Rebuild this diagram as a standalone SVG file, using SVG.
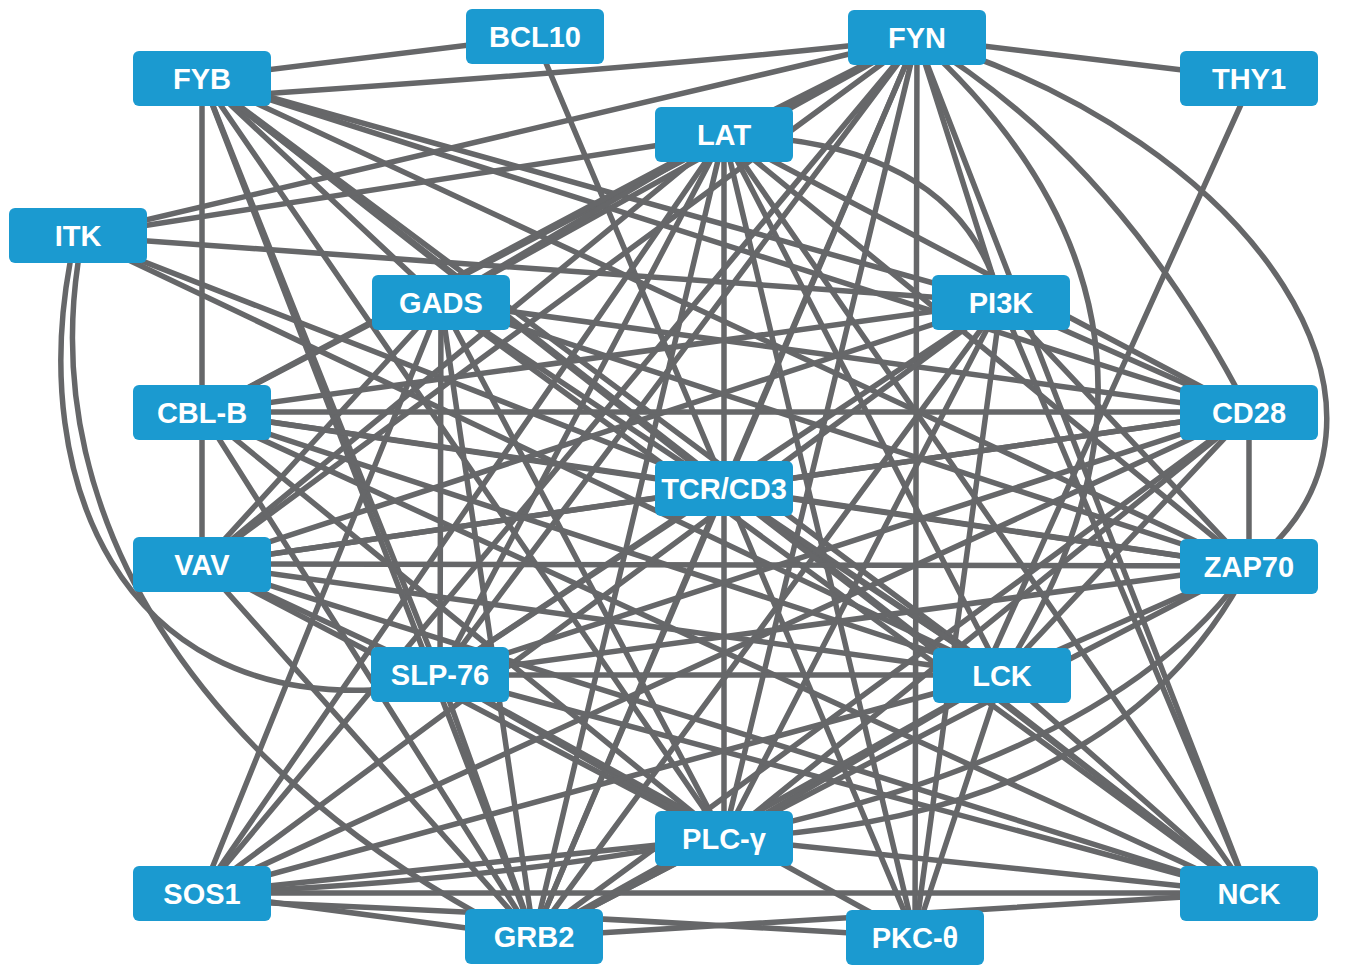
<svg xmlns="http://www.w3.org/2000/svg" width="1358" height="965" viewBox="0 0 1358 965">
<style>
.e line, .e path { stroke: #666769; stroke-width: 5.5; fill: none; stroke-linecap: round; }
.n rect { fill: #1b9ad0; }
.n text { fill: #ffffff; font-family: "Liberation Sans", Arial, sans-serif; font-weight: bold; font-size: 29px; text-anchor: middle; }
</style>
<rect width="1358" height="965" fill="#ffffff"/>
<g id="edges" class="e">
<line x1="202" y1="78" x2="535" y2="37"/>
<path d="M202,98 Q700,65 917,38"/>
<line x1="202" y1="78" x2="202" y2="564"/>
<line x1="202" y1="78" x2="440" y2="675"/>
<line x1="202" y1="78" x2="534" y2="937"/>
<line x1="202" y1="78" x2="724" y2="838"/>
<line x1="202" y1="78" x2="1001" y2="302"/>
<line x1="202" y1="78" x2="1249" y2="412"/>
<line x1="202" y1="78" x2="1002" y2="675"/>
<line x1="202" y1="78" x2="1249" y2="566"/>
<line x1="202" y1="78" x2="724" y2="488"/>
<line x1="202" y1="78" x2="1249" y2="893"/>
<line x1="202" y1="78" x2="441" y2="302"/>
<line x1="535" y1="37" x2="915" y2="937"/>
<line x1="917" y1="38" x2="1249" y2="78"/>
<line x1="917" y1="38" x2="724" y2="135"/>
<line x1="917" y1="38" x2="78" y2="236"/>
<line x1="917" y1="38" x2="441" y2="302"/>
<line x1="917" y1="38" x2="202" y2="412"/>
<line x1="917" y1="38" x2="202" y2="564"/>
<line x1="917" y1="38" x2="440" y2="675"/>
<line x1="917" y1="38" x2="202" y2="893"/>
<line x1="917" y1="38" x2="534" y2="937"/>
<line x1="917" y1="38" x2="724" y2="838"/>
<line x1="917" y1="38" x2="724" y2="488"/>
<line x1="917" y1="38" x2="915" y2="937"/>
<line x1="917" y1="38" x2="1001" y2="302"/>
<line x1="917" y1="38" x2="1249" y2="893"/>
<path d="M917,38 Q1230,320 1002,675"/>
<path d="M917,38 Q1120,160 1249,412"/>
<path d="M917,38 C1260,140 1440,420 1249,566"/>
<line x1="724" y1="135" x2="78" y2="236"/>
<line x1="724" y1="135" x2="441" y2="302"/>
<line x1="724" y1="135" x2="202" y2="412"/>
<line x1="724" y1="135" x2="202" y2="564"/>
<line x1="724" y1="135" x2="440" y2="675"/>
<line x1="724" y1="135" x2="202" y2="893"/>
<line x1="724" y1="135" x2="534" y2="937"/>
<line x1="724" y1="135" x2="724" y2="838"/>
<line x1="724" y1="135" x2="915" y2="937"/>
<line x1="724" y1="135" x2="1002" y2="675"/>
<line x1="724" y1="135" x2="1249" y2="566"/>
<line x1="724" y1="135" x2="1249" y2="893"/>
<path d="M724,135 Q960,140 1001,302"/>
<line x1="724" y1="135" x2="1249" y2="412"/>
<line x1="78" y1="236" x2="1001" y2="302"/>
<line x1="78" y1="236" x2="1002" y2="675"/>
<line x1="78" y1="236" x2="724" y2="488"/>
<path d="M70,263 C30,480 120,700 372,690"/>
<path d="M78,263 C40,520 200,760 480,915"/>
<line x1="441" y1="302" x2="440" y2="675"/>
<line x1="441" y1="302" x2="534" y2="937"/>
<line x1="441" y1="302" x2="724" y2="838"/>
<line x1="441" y1="302" x2="1002" y2="675"/>
<line x1="441" y1="302" x2="1249" y2="412"/>
<line x1="441" y1="302" x2="1249" y2="566"/>
<line x1="441" y1="302" x2="1249" y2="893"/>
<line x1="441" y1="302" x2="202" y2="564"/>
<line x1="441" y1="302" x2="202" y2="893"/>
<line x1="1001" y1="302" x2="202" y2="412"/>
<line x1="1001" y1="302" x2="202" y2="564"/>
<line x1="1001" y1="302" x2="440" y2="675"/>
<line x1="1001" y1="302" x2="202" y2="893"/>
<line x1="1001" y1="302" x2="534" y2="937"/>
<line x1="1001" y1="302" x2="724" y2="838"/>
<line x1="1001" y1="302" x2="1249" y2="412"/>
<line x1="1001" y1="302" x2="1249" y2="566"/>
<line x1="1001" y1="302" x2="1249" y2="893"/>
<line x1="1001" y1="302" x2="915" y2="937"/>
<line x1="202" y1="412" x2="1249" y2="412"/>
<line x1="202" y1="412" x2="1249" y2="566"/>
<line x1="202" y1="412" x2="1002" y2="675"/>
<line x1="202" y1="412" x2="724" y2="838"/>
<line x1="202" y1="412" x2="534" y2="937"/>
<line x1="202" y1="412" x2="1249" y2="893"/>
<line x1="202" y1="412" x2="724" y2="488"/>
<line x1="1249" y1="412" x2="202" y2="564"/>
<line x1="1249" y1="412" x2="440" y2="675"/>
<line x1="1249" y1="412" x2="202" y2="893"/>
<line x1="1249" y1="412" x2="534" y2="937"/>
<line x1="1249" y1="412" x2="724" y2="838"/>
<line x1="1249" y1="412" x2="1002" y2="675"/>
<line x1="1249" y1="412" x2="1249" y2="566"/>
<line x1="1249" y1="412" x2="724" y2="488"/>
<line x1="724" y1="488" x2="1249" y2="566"/>
<line x1="724" y1="488" x2="1002" y2="675"/>
<line x1="724" y1="488" x2="440" y2="675"/>
<line x1="724" y1="488" x2="202" y2="564"/>
<line x1="724" y1="488" x2="534" y2="937"/>
<line x1="724" y1="488" x2="1249" y2="893"/>
<line x1="202" y1="564" x2="1249" y2="566"/>
<line x1="202" y1="564" x2="534" y2="937"/>
<line x1="202" y1="564" x2="724" y2="838"/>
<line x1="202" y1="564" x2="1002" y2="675"/>
<line x1="202" y1="564" x2="1249" y2="893"/>
<line x1="202" y1="564" x2="440" y2="675"/>
<line x1="1249" y1="566" x2="440" y2="675"/>
<line x1="1249" y1="566" x2="1002" y2="675"/>
<line x1="1249" y1="566" x2="534" y2="937"/>
<path d="M1249,566 Q1120,820 724,838"/>
<path d="M1249,566 Q1050,860 202,893"/>
<line x1="440" y1="675" x2="1002" y2="675"/>
<line x1="440" y1="675" x2="724" y2="838"/>
<line x1="440" y1="675" x2="534" y2="937"/>
<line x1="440" y1="675" x2="1249" y2="893"/>
<line x1="440" y1="675" x2="915" y2="937"/>
<line x1="1002" y1="675" x2="724" y2="838"/>
<line x1="1002" y1="675" x2="534" y2="937"/>
<line x1="1002" y1="675" x2="202" y2="893"/>
<line x1="1002" y1="675" x2="915" y2="937"/>
<line x1="1002" y1="675" x2="1249" y2="893"/>
<line x1="1243" y1="100" x2="990" y2="660"/>
<line x1="724" y1="838" x2="534" y2="937"/>
<line x1="724" y1="838" x2="202" y2="893"/>
<line x1="724" y1="838" x2="1249" y2="893"/>
<line x1="202" y1="893" x2="534" y2="937"/>
<line x1="202" y1="893" x2="1249" y2="893"/>
<path d="M202,900 Q560,915 915,937"/>
<line x1="534" y1="937" x2="1249" y2="893"/>
</g>
<g id="node-BCL10" class="n"><rect x="466" y="9" width="138" height="55" rx="6"/><text x="535" y="47">BCL10</text></g>
<g id="node-FYB" class="n"><rect x="133" y="51" width="138" height="55" rx="6"/><text x="202" y="89">FYB</text></g>
<g id="node-FYN" class="n"><rect x="848" y="10" width="138" height="55" rx="6"/><text x="917" y="48">FYN</text></g>
<g id="node-THY1" class="n"><rect x="1180" y="51" width="138" height="55" rx="6"/><text x="1249" y="89">THY1</text></g>
<g id="node-LAT" class="n"><rect x="655" y="107" width="138" height="55" rx="6"/><text x="724" y="145">LAT</text></g>
<g id="node-ITK" class="n"><rect x="9" y="208" width="138" height="55" rx="6"/><text x="78" y="246">ITK</text></g>
<g id="node-GADS" class="n"><rect x="372" y="275" width="138" height="55" rx="6"/><text x="441" y="313">GADS</text></g>
<g id="node-PI3K" class="n"><rect x="932" y="275" width="138" height="55" rx="6"/><text x="1001" y="313">PI3K</text></g>
<g id="node-CBL-B" class="n"><rect x="133" y="385" width="138" height="55" rx="6"/><text x="202" y="423">CBL-B</text></g>
<g id="node-CD28" class="n"><rect x="1180" y="385" width="138" height="55" rx="6"/><text x="1249" y="423">CD28</text></g>
<g id="node-TCR-CD3" class="n"><rect x="655" y="461" width="138" height="55" rx="6"/><text x="724" y="499">TCR/CD3</text></g>
<g id="node-VAV" class="n"><rect x="133" y="537" width="138" height="55" rx="6"/><text x="202" y="575">VAV</text></g>
<g id="node-ZAP70" class="n"><rect x="1180" y="539" width="138" height="55" rx="6"/><text x="1249" y="577">ZAP70</text></g>
<g id="node-SLP-76" class="n"><rect x="371" y="647" width="138" height="55" rx="6"/><text x="440" y="685">SLP-76</text></g>
<g id="node-LCK" class="n"><rect x="933" y="648" width="138" height="55" rx="6"/><text x="1002" y="686">LCK</text></g>
<g id="node-PLC-gamma" class="n"><rect x="655" y="811" width="138" height="55" rx="6"/><text x="724" y="849">PLC-γ</text></g>
<g id="node-SOS1" class="n"><rect x="133" y="866" width="138" height="55" rx="6"/><text x="202" y="904">SOS1</text></g>
<g id="node-NCK" class="n"><rect x="1180" y="866" width="138" height="55" rx="6"/><text x="1249" y="904">NCK</text></g>
<g id="node-GRB2" class="n"><rect x="465" y="909" width="138" height="55" rx="6"/><text x="534" y="947">GRB2</text></g>
<g id="node-PKC-theta" class="n"><rect x="846" y="910" width="138" height="55" rx="6"/><text x="915" y="948">PKC-θ</text></g>
</svg>
